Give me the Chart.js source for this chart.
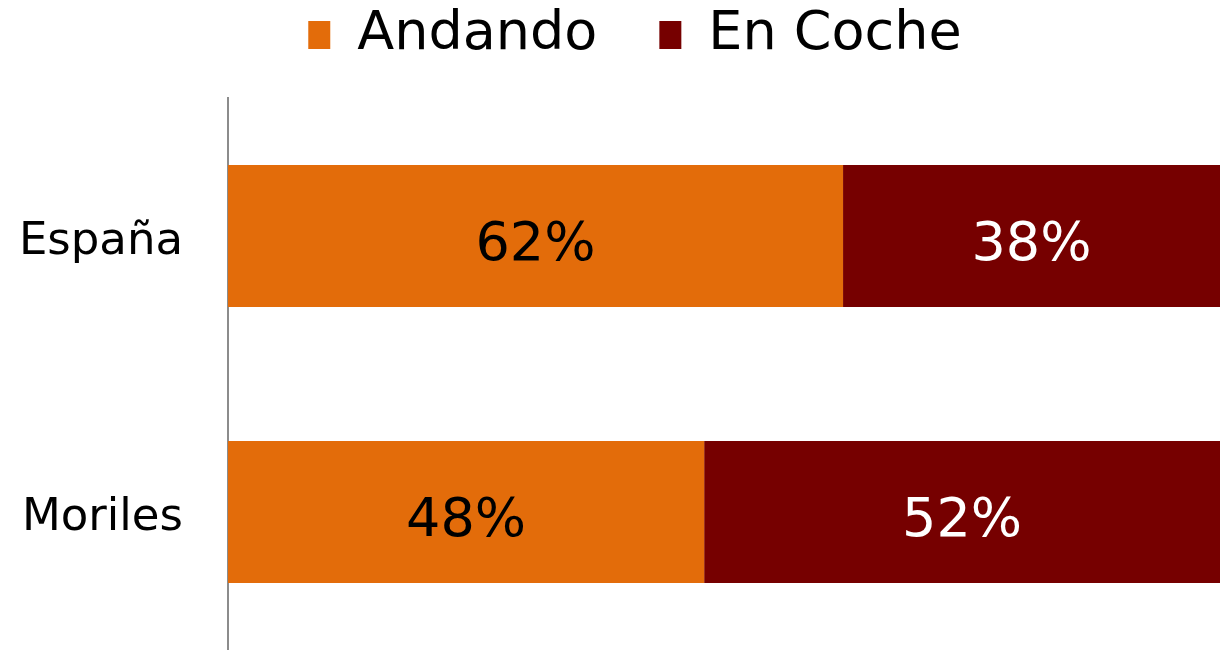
<!DOCTYPE html>
<html>
<head>
<meta charset="utf-8">
<script src="https://cdn.jsdelivr.net/npm/chart.js@4"></script>
<style>
  html, body { margin: 0; padding: 0; background: #fff; }
  #wrap { width: 1220px; height: 650px; }
</style>
</head>
<body>
<div id="wrap"><canvas id="chart" width="1220" height="650"></canvas></div>
<script>
// data
var places = ['España', 'Moriles'];
var walking = [62, 48];
var byCar = [38, 52];
var seriesNames = ['Andando', 'En Coche'];

var FONT = '"DejaVu Sans", sans-serif';

// writes "62%" in the middle of every bar
var barLabels = {
  id: 'barLabels',
  afterDatasetsDraw: function (chart) {
    var ctx = chart.ctx;
    ctx.save();
    ctx.font = '54px ' + FONT;
    ctx.textAlign = 'center';
    ctx.textBaseline = 'middle';
    chart.data.datasets.forEach(function (ds, i) {
      chart.getDatasetMeta(i).data.forEach(function (bar, j) {
        var p = bar.getCenterPoint();
        ctx.fillStyle = i === 0 ? '#000' : '#fff';
        ctx.fillText(ds.data[j] + '%', p.x, p.y + 10);
      });
    });
    ctx.restore();
  }
};

// legend sits a little right of centre and up near the top edge
var moveLegend = {
  id: 'moveLegend',
  afterLayout: function (chart) {
    var lg = chart.legend;
    lg.left += 50;
    lg.top -= 26;
    lg.bottom -= 26;
  }
};

new Chart(document.getElementById('chart'), {
  type: 'bar',
  data: {
    labels: places,
    datasets: [
      { label: seriesNames[0], data: walking, backgroundColor: '#E36C0A' },
      { label: seriesNames[1], data: byCar, backgroundColor: '#760000' }
    ]
  },
  options: {
    indexAxis: 'y',
    responsive: false,
    animation: false,
    layout: { padding: 0 },
    datasets: { bar: { categoryPercentage: 1, barPercentage: 0.515 } },
    plugins: {
      legend: {
        position: 'top',
        labels: {
          color: '#000',
          font: { family: FONT, size: 54 },
          boxWidth: 22,
          boxHeight: 28,
          padding: 8,
          generateLabels: function (chart) {
            var items = Chart.defaults.plugins.legend.labels.generateLabels(chart);
            // a bit more room between the two entries
            items[0].text = items[0].text + '\u2002\u2002';
            return items;
          }
        }
      },
      tooltip: { enabled: false }
    },
    scales: {
      x: { stacked: true, min: 0, max: 100, display: false },
      y: {
        stacked: true,
        grid: { display: false },
        border: { display: true, color: '#8c8c8c', width: 2 },
        ticks: { color: '#000', font: { family: FONT, size: 45 }, padding: 37, labelOffset: 6 },
        afterFit: function (scale) {
          scale.width = 228;
          scale.paddingTop = 98;
          scale.paddingBottom = 0;
        }
      }
    }
  },
  plugins: [barLabels, moveLegend]
});
</script>
</body>
</html>
